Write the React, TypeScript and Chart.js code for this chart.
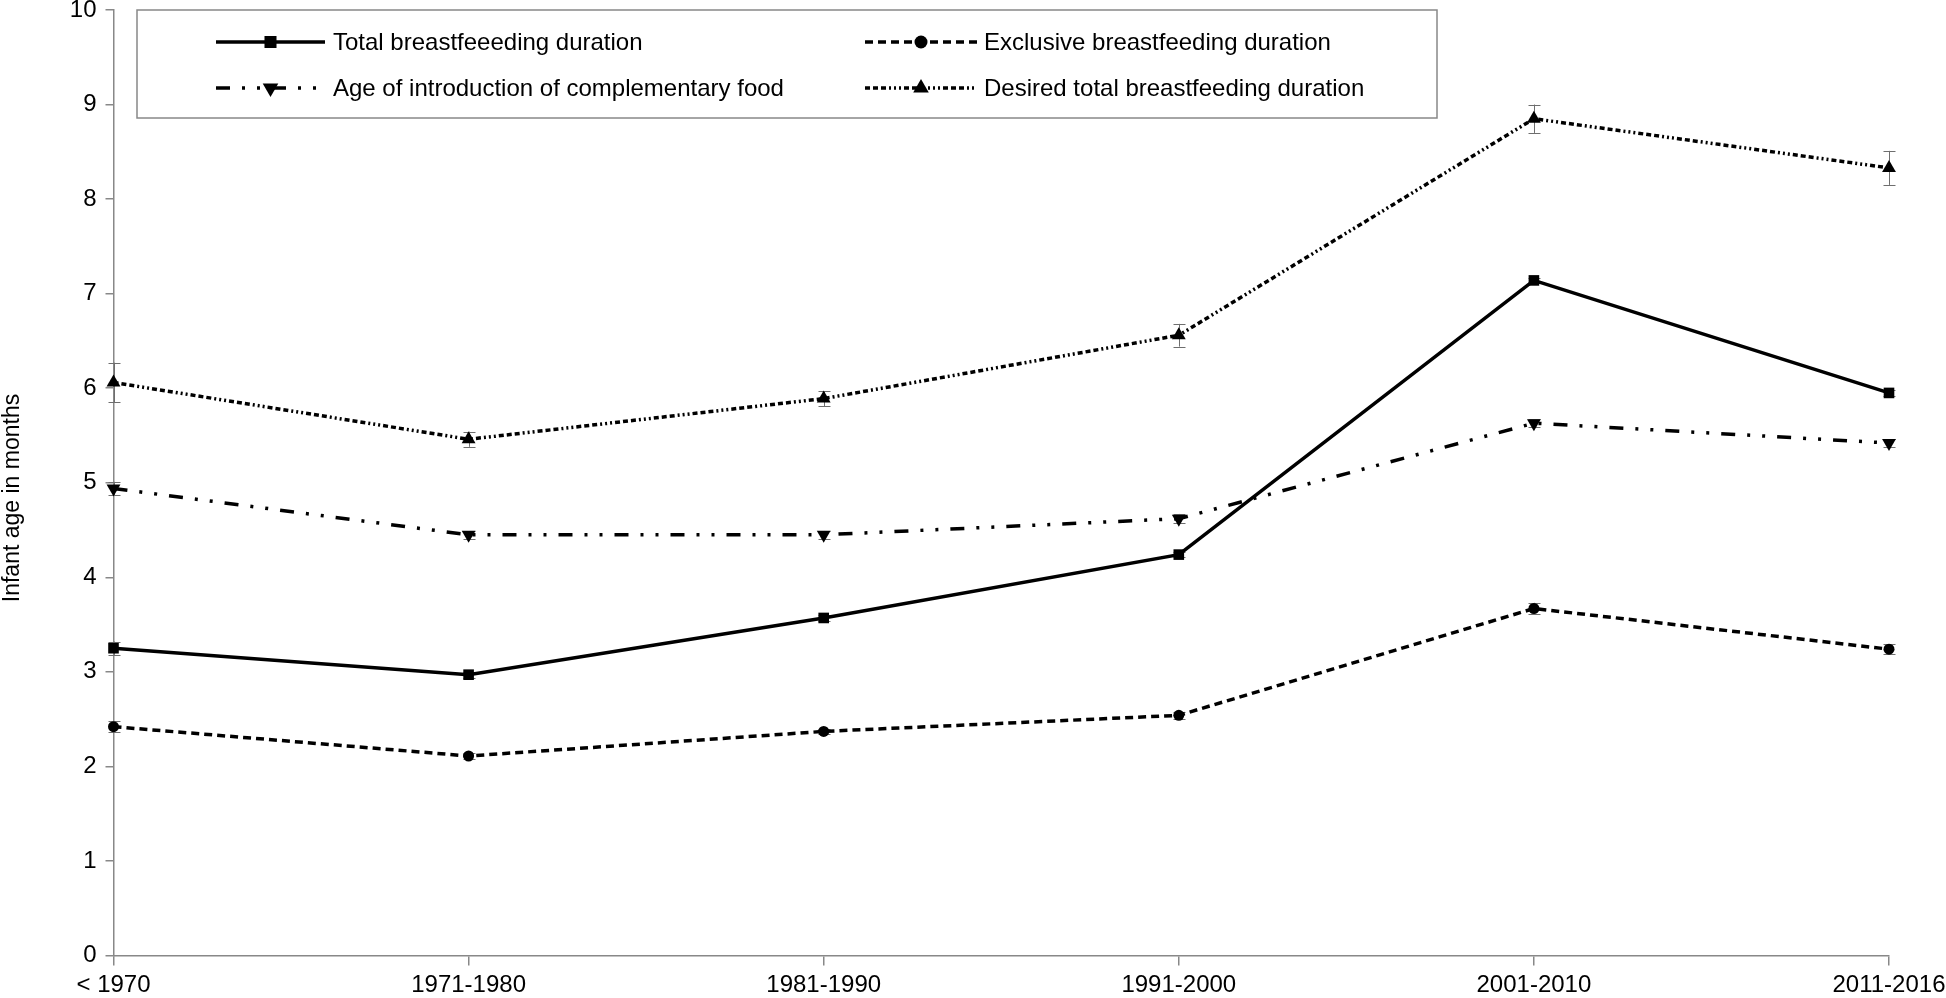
import React, { useEffect, useRef } from 'react';
import { Chart, registerables } from 'chart.js';

Chart.register(...registerables);

const categories = ['< 1970', '1971-1980', '1981-1990', '1991-2000', '2001-2010', '2011-2016'];
const seriesLabels = [
  'Total breastfeeeding duration',
  'Exclusive breastfeeding duration',
  'Age of introduction of complementary food',
  'Desired total breastfeeding duration',
];
const totalDuration = [3.25, 2.97, 3.57, 4.24, 7.14, 5.95];
const exclusiveDuration = [2.42, 2.11, 2.37, 2.54, 3.67, 3.24];
const complementaryAge = [4.94, 4.45, 4.45, 4.62, 5.63, 5.42];
const desiredDuration = [6.06, 5.46, 5.89, 6.56, 8.85, 8.33];
const totalErr = [0.07, 0.03, 0.03, 0.03, 0.03, 0.03];
const exclusiveErr = [0.06, 0.03, 0.03, 0.04, 0.06, 0.05];
const complementaryErr = [0.07, 0.04, 0.04, 0.05, 0.04, 0.04];
const desiredErr = [0.21, 0.08, 0.08, 0.12, 0.15, 0.18];
const yTicksMin = 0;
const yTicksMax = 10;
const yAxisTitle = 'Infant age in months';

const FONT = '"Liberation Sans", Arial, sans-serif';
const TICK_SIZE = 24;
const LEGEND_SIZE = 24;
const TITLE_SIZE = 23;

const dashes = [[], [8, 5], [14, 12, 3, 12, 3, 12], [5, 3, 5, 3, 5, 3, 2, 3, 2, 3, 2, 3]];
const markerStyles = [
  { style: 'rect', rot: 0, r: 7.5, lr: 8.5 },
  { style: 'circle', rot: 0, r: 5.5, lr: 6.5 },
  { style: 'triangle', rot: 180, r: 8, lr: 9 },
  { style: 'triangle', rot: 0, r: 8, lr: 9 },
];

function drawMarker(ctx: CanvasRenderingContext2D, style: string, rot: number, r: number, x: number, y: number) {
  ctx.save();
  ctx.fillStyle = '#000';
  ctx.beginPath();
  if (style === 'rect') {
    const s = r * Math.SQRT1_2;
    ctx.rect(x - s, y - s, 2 * s, 2 * s);
  } else if (style === 'circle') {
    ctx.arc(x, y, r, 0, Math.PI * 2);
  } else {
    let a = (rot * Math.PI) / 180;
    ctx.moveTo(x + Math.sin(a) * r, y - Math.cos(a) * r);
    a += (2 * Math.PI) / 3;
    ctx.lineTo(x + Math.sin(a) * r, y - Math.cos(a) * r);
    a += (2 * Math.PI) / 3;
    ctx.lineTo(x + Math.sin(a) * r, y - Math.cos(a) * r);
    ctx.closePath();
  }
  ctx.fill();
  ctx.restore();
}

export default function App() {
  const ref = useRef<HTMLCanvasElement>(null);

  useEffect(() => {
    const errors = [totalErr, exclusiveErr, complementaryErr, desiredErr];

    const errorBars = {
      id: 'errorBars',
      beforeDatasetsDraw(chart: any) {
        const ctx = chart.ctx as CanvasRenderingContext2D;
        const xs = chart.scales.x;
        const ys = chart.scales.y;
        ctx.save();
        ctx.strokeStyle = '#6e6e6e';
        ctx.lineWidth = 1;
        chart.data.datasets.forEach((ds: any, i: number) => {
          ds.data.forEach((v: number, j: number) => {
            const e = errors[i][j];
            const x = Math.round(xs.getPixelForValue(j)) + 0.5;
            const y1 = ys.getPixelForValue(v + e);
            const y2 = ys.getPixelForValue(v - e);
            ctx.beginPath();
            ctx.moveTo(x, y1);
            ctx.lineTo(x, y2);
            ctx.moveTo(x - 6, Math.round(y1) + 0.5);
            ctx.lineTo(x + 6, Math.round(y1) + 0.5);
            ctx.moveTo(x - 6, Math.round(y2) + 0.5);
            ctx.lineTo(x + 6, Math.round(y2) + 0.5);
            ctx.stroke();
          });
        });
        ctx.restore();
      },
    };

    const legendBox = {
      id: 'legendBox',
      afterDraw(chart: any) {
        const ctx = chart.ctx as CanvasRenderingContext2D;
        ctx.save();
        ctx.strokeStyle = '#888';
        ctx.lineWidth = 1.5;
        ctx.strokeRect(137, 10, 1300, 108);
        const slots = [
          { x1: 216, x2: 325, tx: 333, y: 42 },
          { x1: 865, x2: 977, tx: 984, y: 42 },
          { x1: 216, x2: 325, tx: 333, y: 88 },
          { x1: 865, x2: 977, tx: 984, y: 88 },
        ];
        chart.data.datasets.forEach((ds: any, i: number) => {
          const s = slots[i];
          ctx.save();
          ctx.strokeStyle = '#000';
          ctx.lineWidth = 3.5;
          ctx.setLineDash(ds.borderDash || []);
          ctx.beginPath();
          ctx.moveTo(s.x1, s.y);
          ctx.lineTo(s.x2, s.y);
          ctx.stroke();
          ctx.restore();
          const m = markerStyles[i];
          drawMarker(ctx, m.style, m.rot, m.lr, (s.x1 + s.x2) / 2, s.y);
          ctx.fillStyle = '#000';
          ctx.font = `${LEGEND_SIZE}px ${FONT}`;
          ctx.textBaseline = 'middle';
          ctx.textAlign = 'left';
          ctx.fillText(ds.label, s.tx, s.y + 1);
        });
        // y axis title
        ctx.save();
        ctx.translate(13, 498);
        ctx.rotate(-Math.PI / 2);
        ctx.fillStyle = '#000';
        ctx.font = `${TITLE_SIZE}px ${FONT}`;
        ctx.textAlign = 'center';
        ctx.textBaseline = 'middle';
        ctx.fillText(yAxisTitle, 0, 0);
        ctx.restore();
        ctx.restore();
      },
    };

    const values = [totalDuration, exclusiveDuration, complementaryAge, desiredDuration];
    const chart = new Chart(ref.current as HTMLCanvasElement, {
      type: 'line',
      data: {
        labels: categories,
        datasets: values.map((d, i) => ({
          label: seriesLabels[i],
          data: d,
          borderColor: '#000',
          backgroundColor: '#000',
          borderWidth: 3.5,
          borderDash: dashes[i],
          borderCapStyle: 'butt',
          pointStyle: markerStyles[i].style,
          rotation: markerStyles[i].rot,
          pointRadius: markerStyles[i].r,
          pointBorderWidth: 0,
          pointBackgroundColor: '#000',
          tension: 0,
          fill: false,
          clip: false,
        })) as any,
      },
      options: {
        animation: false,
        responsive: false,
        events: [],
        layout: { padding: { top: 10, right: 57, bottom: 0, left: 0 } },
        plugins: { legend: { display: false }, tooltip: { enabled: false } },
        scales: {
          x: {
            type: 'category',
            offset: false,
            ticks: { color: '#000', font: { family: FONT, size: TICK_SIZE }, maxRotation: 0, autoSkip: false, padding: 5 },
            grid: { drawOnChartArea: false, drawTicks: true, tickLength: 10, color: '#888', lineWidth: 1.5 },
            border: { display: true, color: '#888', width: 1.5 },
            afterFit: (scale: any) => {
              scale.height = 42.5;
              scale.paddingLeft = 0;
              scale.paddingRight = 0;
            },
          },
          y: {
            min: yTicksMin,
            max: yTicksMax,
            ticks: { stepSize: 1, color: '#000', font: { family: FONT, size: TICK_SIZE }, padding: 9 },
            grid: { drawOnChartArea: false, drawTicks: true, tickLength: 8, color: '#888', lineWidth: 1.5 },
            border: { display: true, color: '#888', width: 1.5 },
            afterFit: (scale: any) => {
              scale.width = 113.5;
              scale.paddingTop = 0;
              scale.paddingBottom = 0;
            },
          },
        },
      } as any,
      plugins: [errorBars, legendBox],
    });
    return () => chart.destroy();
  }, []);

  return (
    <div style={{ position: 'fixed', left: 0, top: 0, width: 1946, height: 998, background: '#fff' }}>
      <canvas ref={ref} width={1946} height={998} style={{ display: 'block', width: 1946, height: 998 }} />
    </div>
  );
}
